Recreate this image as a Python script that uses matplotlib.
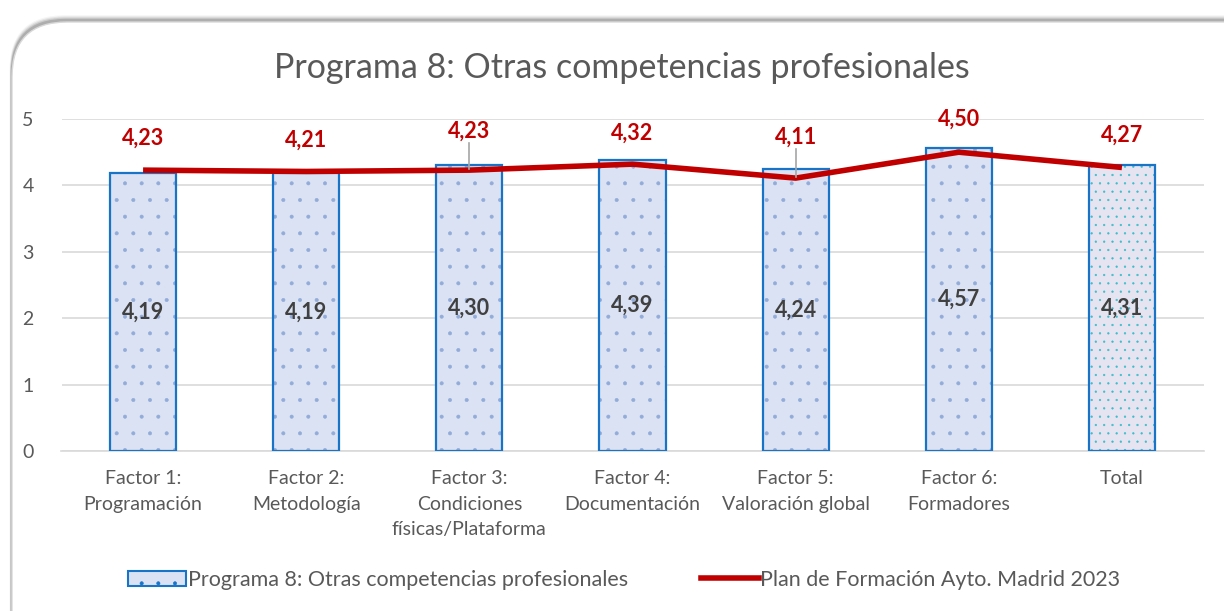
import matplotlib
matplotlib.use("Agg")
import matplotlib.pyplot as plt
from matplotlib.patches import FancyBboxPatch, Rectangle
from matplotlib.lines import Line2D
import numpy as np

plt.rcParams['font.family'] = ['Lato', 'DejaVu Sans']
plt.rcParams['hatch.linewidth'] = 0.4

categories = ["Factor 1:\nProgramación", "Factor 2:\nMetodología", "Factor 3:\nCondiciones\nfísicas/Plataforma",
              "Factor 4:\nDocumentación", "Factor 5:\nValoración global", "Factor 6:\nFormadores", "Total"]
programa_vals = [4.19, 4.19, 4.30, 4.39, 4.24, 4.57, 4.31]
plan_vals = [4.23, 4.21, 4.23, 4.32, 4.11, 4.50, 4.27]
series_names = ["Programa 8: Otras competencias profesionales", "Plan de Formación Ayto. Madrid 2023"]
title = "Programa 8: Otras competencias profesionales"

# label layout (data units)
label_y = [4.71, 4.68, 4.82, 4.79, 4.73, 5.0, 4.76]
leader = [False, False, True, False, True, False, False]

fig = plt.figure(figsize=(12.24, 6.11), dpi=100)
fig.patch.set_facecolor('white')

# rounded frame with soft shadow
W, H = 1224, 611
for i, a in enumerate([0.04, 0.07, 0.10, 0.14]):
    off = (4 - i) * 1.2
    sh = FancyBboxPatch(((11 - off * 0.3) / W, (H - 20 + off) / H - 1.2), 1.2, 1.2,
                        boxstyle="round,pad=0,rounding_size=0.045", mutation_aspect=W / H,
                        transform=fig.transFigure, facecolor=(0, 0, 0, a), edgecolor='none', zorder=-3)
    fig.patches.append(sh)
fr = FancyBboxPatch((12 / W, (H - 22) / H - 1.2), 1.2, 1.2,
                    boxstyle="round,pad=0,rounding_size=0.045", mutation_aspect=W / H,
                    transform=fig.transFigure, facecolor='white', edgecolor='#d9d9d9',
                    linewidth=1.0, zorder=-2)
fig.patches.append(fr)

ax = fig.add_axes([61.5 / W, 1 - 451 / H, 1142 / W, 332 / H])
ax.set_facecolor('none')
x = np.arange(len(categories))
w = 0.405

for i, v in enumerate(programa_vals):
    if i == len(programa_vals) - 1:
        fc, hc, hatch = '#e6e4f1', '#3cbccb', '..'
    else:
        fc, hc, hatch = '#dbe2f3', '#92abd9', '.'
    ax.bar(x[i], v, w, color=fc, edgecolor=hc, hatch=hatch, linewidth=0, zorder=2)
    ax.bar(x[i], v, w, color='none', edgecolor='#1874c6', linewidth=1.6, zorder=3)
    ax.text(x[i], v / 2, f"{v:.2f}".replace('.', ','), ha='center', va='center',
            fontsize=15.5, fontweight='bold', color='#404040', zorder=5)

ax.plot(x, plan_vals, color='#c00000', linewidth=4, zorder=4, solid_capstyle='butt')
for i, v in enumerate(plan_vals):
    ax.text(x[i], label_y[i], f"{v:.2f}".replace('.', ','), ha='center', va='center',
            fontsize=15.5, fontweight='bold', color='#c00000', zorder=5)
    if leader[i]:
        ax.plot([x[i], x[i]], [label_y[i] - 0.18, v + 0.02], color='#a6a6a6', linewidth=1.2, zorder=5)

ax.set_xlim(-0.5, len(categories) - 0.5)
ax.set_ylim(0, 5)
ax.set_yticks(range(6))
ax.yaxis.grid(True, color='#d9d9d9', linewidth=1.2, zorder=0)
ax.set_axisbelow(True)
for s in ['top', 'right', 'left']:
    ax.spines[s].set_visible(False)
ax.spines['bottom'].set_color('#d9d9d9')
ax.spines['bottom'].set_linewidth(1.2)
ax.tick_params(axis='both', length=0, colors='#595959', labelsize=14)
ax.tick_params(axis='y', pad=20)
ax.tick_params(axis='x', pad=14)
ax.set_xticks(x)
ax.set_xticklabels(categories, linespacing=1.58)

fig.text(0.508, 1 - 68 / H, title, ha='center', va='center', fontsize=24.5, color='#595959')

# legend
h1 = Rectangle((0, 0), 1, 1, facecolor='#dbe2f3', edgecolor='#1874c6', hatch='.', linewidth=1.5)
h2 = Line2D([0], [0], color='#c00000', linewidth=4)
leg = fig.legend([h1, h2], series_names, loc='center', bbox_to_anchor=(0.51, 1 - 580 / H),
                 ncol=2, frameon=False, fontsize=15.5, handlelength=2.7, handletextpad=0.05,
                 columnspacing=3.4, labelcolor='#595959')

fig.savefig("out.png", dpi=100)
